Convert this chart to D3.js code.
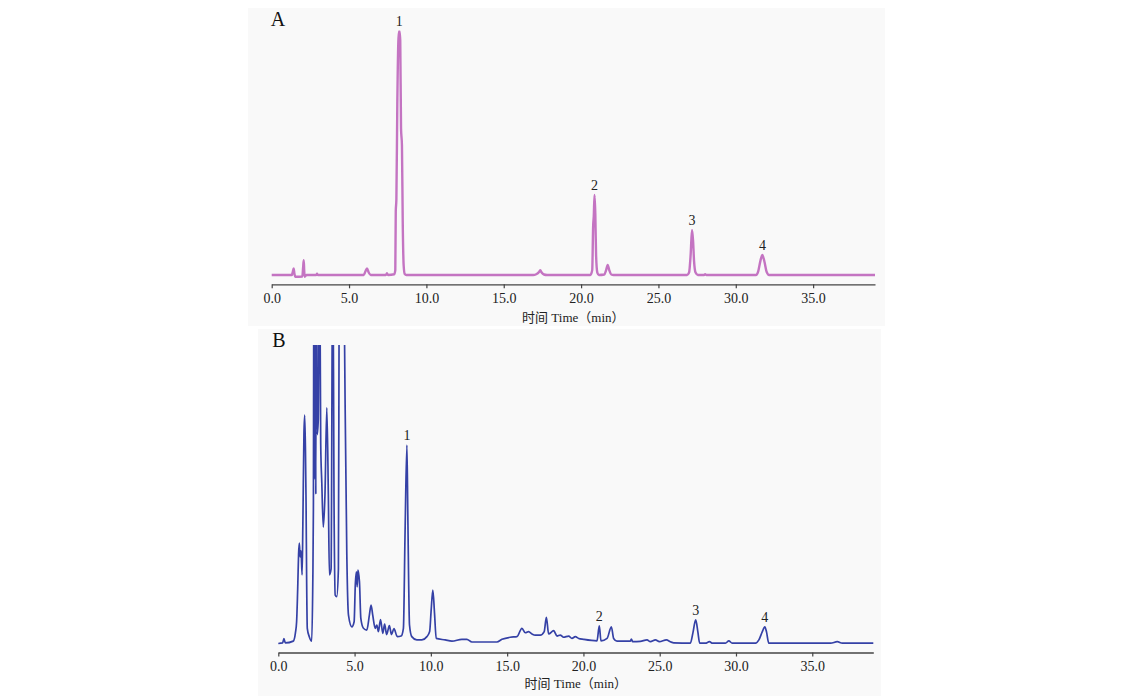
<!DOCTYPE html>
<html>
<head>
<meta charset="utf-8">
<script src="https://cdn.jsdelivr.net/npm/d3@7"></script>
<style>
  body { margin: 0; background: #ffffff; }
  .tickText { font-family: "Liberation Serif", "Times New Roman", serif; font-size: 14px; fill: #222; }
  .axisTitle { font-family: "Liberation Serif", "Noto Sans CJK SC", serif; font-size: 13px; fill: #222; }
  .peakText { font-family: "Liberation Serif", serif; font-size: 14px; fill: #222; }
  .panelText { font-family: "Liberation Serif", serif; font-size: 20px; fill: #111; }
</style>
</head>
<body>
<div id="chart"></div>
<script>
// Chromatogram A (standard) - [time (min), relative response]
var traceA = [
  [0, 0], [1.30, 0], [1.36, 1.2], [1.42, 2.7], [1.47, 0.5], [1.53, -0.7], [1.98, -0.6],
  [2.03, 3], [2.07, 6.1], [2.10, 2], [2.13, -0.7], [2.25, 0], [2.88, 0], [2.93, 0.5], [2.98, 0],
  [5.95, 0], [6.06, 1.5], [6.16, 2.7], [6.27, 1.0], [6.40, 0], [7.38, 0], [7.45, 0.7], [7.52, 0],
  [7.92, 0.3], [7.99, 2], [8.02, 26], [8.06, 31], [8.12, 70], [8.19, 96], [8.25, 100], [8.31, 96],
  [8.36, 60], [8.42, 53], [8.47, 22], [8.53, 4], [8.60, 0.4], [8.70, 0],
  [16.9, 0], [17.1, 0.3], [17.28, 1.2], [17.36, 2.0], [17.45, 1.0], [17.6, 0.2], [17.8, 0],
  [20.60, 0], [20.72, 2], [20.78, 20], [20.82, 24], [20.87, 32.7], [20.92, 25], [20.97, 8],
  [21.05, 1], [21.15, 0], [21.5, 0.2], [21.62, 2], [21.72, 4.1], [21.82, 2], [21.95, 0.2], [22.1, 0],
  [26.85, 0], [26.98, 1], [27.08, 8], [27.17, 18.4], [27.24, 14], [27.30, 6], [27.40, 1], [27.55, 0],
  [27.95, 0], [28.02, 0.3], [28.1, 0],
  [31.30, 0], [31.45, 1.5], [31.6, 6], [31.72, 8.2], [31.85, 5.5], [32.0, 1.2], [32.15, 0], [39, 0]
];

// Chromatogram B (sample) - values above 100 run off the top of the panel
var traceB = [
  [0, 0], [0.28, 0.2], [0.37, 1.6], [0.46, 0.2], [0.98, 0.8], [1.12, 3.5], [1.2, 7.3], [1.28, 20],
  [1.33, 30], [1.38, 33.6], [1.43, 29], [1.49, 31], [1.56, 23], [1.61, 40], [1.68, 70], [1.73, 76.5],
  [1.78, 65], [1.82, 47], [1.86, 20], [1.9, 5.1], [2.03, 2.3], [2.19, 0.8], [2.26, 20], [2.30, 45],
  [2.34, 150], [2.38, 55], [2.42, 160], [2.46, 50], [2.50, 150], [2.55, 70], [2.62, 75], [2.70, 140],
  [2.78, 67], [2.85, 54], [2.95, 39], [3.06, 50], [3.18, 79], [3.28, 50], [3.35, 23], [3.46, 25],
  [3.57, 140], [3.65, 50], [3.73, 16.2], [3.83, 15.7], [3.94, 25], [3.99, 120], [4.04, 170],
  [4.24, 170], [4.31, 120], [4.38, 80], [4.49, 30], [4.60, 9.5], [4.82, 5.6], [4.97, 7.3], [5.05, 20],
  [5.12, 24], [5.17, 19], [5.22, 24.6], [5.32, 20.7], [5.41, 8.4], [5.58, 5.1], [5.80, 4.5], [5.97, 9.5],
  [6.08, 12.9], [6.19, 9.5], [6.35, 5.1], [6.46, 6.2], [6.56, 4], [6.70, 8], [6.85, 3.4], [6.97, 6.5],
  [7.10, 3], [7.28, 6], [7.42, 3], [7.58, 5], [7.80, 2.3], [8.05, 2.5], [8.2, 5.1], [8.31, 37.5],
  [8.43, 66.5], [8.49, 43], [8.6, 6.2], [8.75, 2.3], [9.08, 1.2], [9.41, 1.2], [9.74, 2.3], [9.92, 4],
  [10.02, 11.2], [10.13, 17.9], [10.24, 10.1], [10.35, 1.7], [10.94, 1.2], [11.38, 0.8], [12.03, 1.4],
  [12.36, 1.4], [12.69, 0.5], [14.33, 0.5], [14.66, 1.4], [15.2, 2.1], [15.64, 2.3], [15.97, 5.1],
  [16.19, 3.6], [16.4, 4.0], [16.63, 3.2], [16.84, 2.8], [17.17, 2.8], [17.43, 4], [17.57, 8.8],
  [17.72, 3.2], [18.05, 4.3], [18.27, 2.5], [18.48, 2.8], [18.7, 2.1], [19.03, 2.5], [19.25, 1.7],
  [19.47, 2.3], [19.69, 1.7], [20.01, 1.4], [20.89, 0.9], [21.04, 5.9], [21.15, 0.9], [21.55, 1.7],
  [21.83, 5.6], [21.98, 1.7], [22.2, 0.8], [23.08, 0.8], [23.14, 1.5], [23.23, 0.6], [23.73, 0.7],
  [24.17, 1.2], [24.39, 0.6], [24.72, 1.2], [24.98, 0.6], [25.44, 1.2], [25.7, 0.6], [25.92, 0.2],
  [27.01, 0.1], [27.17, 3.4], [27.36, 7.9], [27.5, 3.9], [27.62, 0.1], [28.0, 0.1], [28.26, 0.6],
  [28.46, 0.1], [29.31, 0.1], [29.53, 0.9], [29.75, 0.1], [31.28, 0.1], [31.5, 1.2], [31.72, 3.9],
  [31.89, 5.6], [32.0, 3.9], [32.15, 0.1], [36.2, 0.1], [36.64, 0.6], [36.97, 0.1], [39, 0.1]
];

// Peak numbers and where they sit
var peakNames = ["1", "2", "3", "4"];
var peakTimesA = [8.25, 20.87, 27.17, 31.72];
var peakValsA = [100, 32.7, 18.4, 8.2];
var peakTimesB = [8.43, 21.04, 27.36, 31.89];
var peakValsB = [66.5, 5.9, 7.9, 5.6];

// Axis ticks
var tickValues = [0, 5, 10, 15, 20, 25, 30, 35];
var axisTitle = "时间 Time（min）";

var svgWidth = 1121;
var svgHeight = 696;

var svg = d3.select("#chart")
  .append("svg")
  .attr("width", svgWidth)
  .attr("height", svgHeight);

// Panel settings (pixel layout of each chromatogram)
var panels = [
  { name: "A", data: traceA, times: peakTimesA, vals: peakValsA, color: "#c474c2", width: 2.4,
    bg: [248, 8, 637, 318], x0: 271.7, x1: 875, yBase: 275, yTop: 30.5, axisY: 284.3,
    titleY: 317, letter: [278, 26] },
  { name: "B", data: traceB, times: peakTimesB, vals: peakValsB, color: "#3541a6", width: 1.7,
    bg: [258, 329, 623, 367], x0: 278.3, x1: 873.3, yBase: 643.5, yTop: 345, axisY: 652.5,
    titleY: 683, letter: [279, 347] }
];

panels.forEach(function(p, i) {

  var g = svg.append("g");

  // light panel background
  g.append("rect")
    .attr("x", p.bg[0])
    .attr("y", p.bg[1])
    .attr("width", p.bg[2])
    .attr("height", p.bg[3])
    .attr("fill", "#f9f9f9");

  var xScale = d3.scaleLinear()
    .domain([0, 39])
    .range([p.x0, p.x1]);

  var yScale = d3.scaleLinear()
    .domain([0, 100])
    .range([p.yBase, p.yTop]);

  // clip tall peaks at the top of the panel
  g.append("clipPath")
    .attr("id", "clip" + i)
    .append("rect")
    .attr("x", p.x0 - 5)
    .attr("y", p.yTop)
    .attr("width", p.x1 - p.x0 + 10)
    .attr("height", p.axisY - p.yTop);

  var line = d3.line()
    .x(d => xScale(d[0]))
    .y(d => yScale(d[1]))
    .curve(d3.curveMonotoneX);

  g.append("path")
    .datum(p.data)
    .attr("clip-path", "url(#clip" + i + ")")
    .attr("fill", "none")
    .attr("stroke", p.color)
    .attr("stroke-width", p.width)
    .attr("stroke-linejoin", "round")
    .attr("d", line);

  // bottom axis
  var bottomAxis = d3.axisBottom(xScale)
    .tickValues(tickValues)
    .tickFormat(d3.format(".1f"))
    .tickSize(4)
    .tickSizeOuter(0)
    .tickPadding(5);

  var axisG = g.append("g")
    .attr("transform", `translate(0, ${p.axisY})`)
    .call(bottomAxis);

  axisG.select(".domain").attr("stroke", "#444").attr("stroke-width", 1.3);
  axisG.selectAll(".tick line").attr("stroke", "#444").attr("stroke-width", 1.2);
  axisG.selectAll(".tick text")
    .attr("class", "tickText")
    .attr("font-family", null)
    .attr("font-size", null)
    .attr("fill", null);

  // axis title
  g.append("text")
    .attr("class", "axisTitle")
    .attr("x", (p.x0 + p.x1) / 2)
    .attr("y", p.titleY)
    .attr("dy", "0.35em")
    .attr("text-anchor", "middle")
    .text(axisTitle);

  // peak numbers
  g.selectAll(".peakText")
    .data(peakNames)
    .enter()
    .append("text")
    .attr("class", "peakText")
    .attr("x", (d, j) => xScale(p.times[j]))
    .attr("y", (d, j) => yScale(p.vals[j]) - 5)
    .attr("text-anchor", "middle")
    .text(d => d);

  // panel letter
  g.append("text")
    .attr("class", "panelText")
    .attr("x", p.letter[0])
    .attr("y", p.letter[1])
    .attr("text-anchor", "middle")
    .text(p.name);
});
</script>
</body>
</html>
